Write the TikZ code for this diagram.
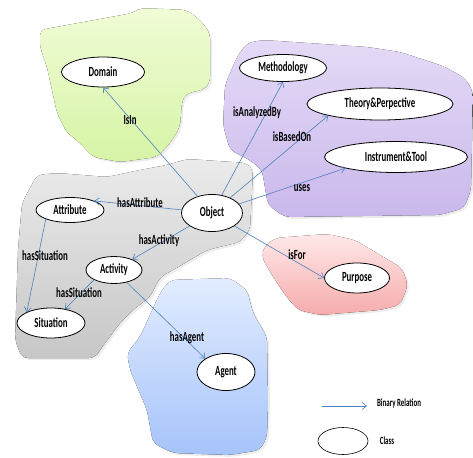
\documentclass[tikz,border=0pt]{standalone}
\usepackage{fontspec}
\setmainfont{Carlito}
\usetikzlibrary{shapes.geometric,arrows.meta,shadows}
\definecolor{relblue}{RGB}{79,129,189}
\definecolor{greentop}{RGB}{240,252,214}
\definecolor{greenbot}{RGB}{214,244,166}
\definecolor{purptop}{RGB}{228,218,246}
\definecolor{purpbot}{RGB}{202,184,236}
\definecolor{redtop}{RGB}{255,232,232}
\definecolor{redbot}{RGB}{246,172,172}
\definecolor{bluetop}{RGB}{226,236,255}
\definecolor{bluebot}{RGB}{166,196,250}
\begin{document}
\begin{tikzpicture}[x=1pt,y=-1pt,
  cls/.style 2 args={ellipse,draw,line width=.8pt,fill=white,xscale=.63,minimum width=#1/.63,minimum height=#2,inner sep=0,font=\fontsize{14}{16}\selectfont\bfseries},
  lbl/.style={xscale=.63,inner sep=0,font=\fontsize{14}{16}\selectfont\bfseries},
  rel/.style={draw=relblue,line width=.6pt,-{Straight Barb[length=4.5pt,width=7pt]}},
  blob/.style={rounded corners=6pt,drop shadow={opacity=.15,shadow xshift=2pt,shadow yshift=-2pt}}]
\useasboundingbox(0,0)rectangle(473,457);
% regions
\fill[blob,top color=greentop,bottom color=greenbot](40,47)--(40,30)--(133,13)--(140,8)--(187,10)--(200,20)--(210,33)--(210,83)--(203,90)--(187,93)--(182,100)--(180,127)--(170,143)--(157,157)--(120,162)--(93,157)--(77,140)--(67,133)--(57,113)--(47,67)--cycle;
\fill[blob,top color=purptop,bottom color=purpbot](225,85)--(237,57)--(247,43)--(263,40)--(367,47)--(400,52)--(443,66)--(465,78)--(473,92)--(471,190)--(464,208)--(440,215)--(285,217)--(268,205)--(262,170)--(250,160)--(230,150)--(223,125)--cycle;
\fill[blob,top color=black!8,bottom color=black!22](22,203)--(37,175)--(57,173)--(107,177)--(140,170)--(167,165)--(187,159)--(247,163)--(253,170)--(250,230)--(240,242)--(207,250)--(173,270)--(160,277)--(150,297)--(133,310)--(120,323)--(100,350)--(95,358)--(22,358)--(15,340)--(18,250)--cycle;
\fill[blob,top color=redtop,bottom color=redbot](262,258)--(263,248)--(275,238)--(327,234)--(355,240)--(380,255)--(402,268)--(408,285)--(400,305)--(380,310)--(320,315)--(298,310)--(285,295)--(272,275)--cycle;
\fill[blob,top color=bluetop,bottom color=bluebot](160,293)--(170,280)--(230,278)--(247,290)--(253,313)--(267,337)--(268,403)--(267,437)--(260,450)--(230,455)--(173,453)--(153,443)--(147,410)--(130,370)--(127,353)--(140,337)--cycle;
% classes
\node[cls={83}{30}](dom)at(103,72){Domain};
\node[cls={87}{27}](meth)at(283,68){Methodology};
\node[cls={146}{32}](theo)at(380,104){Theory\&Perpective};
\node[cls={143}{31}](inst)at(396,157){Instrument\&Tool};
\node[cls={61}{37}](obj)at(212,213){Object};
\node[cls={68}{25}](attr)at(70,210){Attribute};
\node[cls={56}{27}](act)at(114,270){Activity};
\node[cls={68}{30}](situ)at(51,323){Situation};
\node[cls={65}{30}](pur)at(357,278){Purpose};
\node[cls={58}{37}](agt)at(226,372){Agent};
% relations
\draw[rel](obj)--(dom.south);
\draw[rel](obj)--(meth.south);
\draw[rel](obj)--(theo.south west);
\draw[rel](obj)--(inst.south west);
\draw[rel](obj)--(attr.north east);
\draw[rel](obj)--(act);
\draw[rel](obj)--(pur.west);
\draw[rel](attr.south west)--(situ.north west);
\draw[rel](act.south west)--(situ);
\draw[rel](act)--(agt.north west);
\node[lbl](isin)at(130,120){IsIn};
\node[lbl](isana)at(257,113){isAnalyzedBy};
\node[lbl](isbas)at(292,137){isBasedOn};
\node[lbl](uses)at(302,188){uses};
\node[lbl](hasatt)at(140,203){hasAttribute};
\node[lbl](hasact)at(159,241){hasActivity};
\node[lbl](hassit1)at(45,256){hasSituation};
\node[lbl](hassit2)at(79,293){hasSituation};
\node[lbl](hasagt)at(187,338){hasAgent};
\node[lbl](isfor)at(297,255){isFor};
% legend
\coordinate(lega)at(322,406);
\coordinate(legb)at(367,406);
\draw[rel](lega)--(legb);
\node[lbl,font=\fontsize{11}{13}\selectfont\bfseries](legrel)at(399,403){Binary Relation};
\node[cls={50}{27},line width=.6pt](legcls)at(343,441){};
\node[lbl,font=\fontsize{11}{13}\selectfont\bfseries](legcl)at(387,441){Class};
\end{tikzpicture}
\end{document}
